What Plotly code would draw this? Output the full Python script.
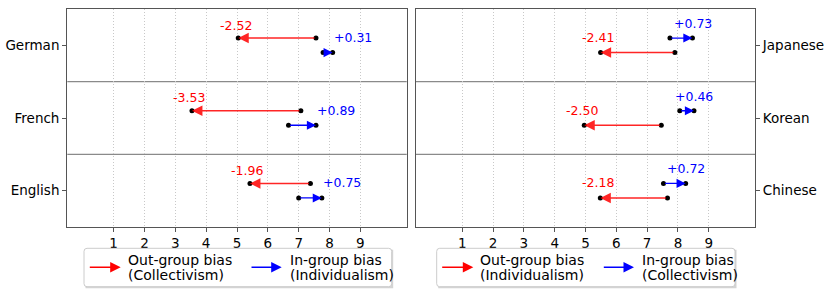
import plotly.graph_objects as go

W, H = 830, 297

# ---------------- data ----------------
left_langs = ["German", "French", "English"]
left_out_start = [7.56, 7.07, 7.38]
left_out_bias = [-2.52, -3.53, -1.96]
left_in_start = [7.79, 6.67, 7.00]
left_in_bias = [0.31, 0.89, 0.75]

right_langs = ["Japanese", "Korean", "Chinese"]
right_out_start = [7.90, 7.46, 7.66]
right_out_bias = [-2.41, -2.50, -2.18]
right_in_start = [7.74, 8.06, 7.53]
right_in_bias = [0.73, 0.46, 0.72]

x_ticks = [1, 2, 3, 4, 5, 6, 7, 8, 9]

left_legend = ["Out-group bias", "(Collectivism)", "In-group bias", "(Individualism)"]
right_legend = ["Out-group bias", "(Individualism)", "In-group bias", "(Collectivism)"]

RED = "#ff0000"
BLUE = "#0000ff"
FONT = "DejaVu Sans"

fig = go.Figure()
annotations = []
shapes = []


def px_x(p):
    return p / W


def px_y(p):
    return 1 - p / H


def panel(xref, yref, langs, out_start, out_bias, in_start, in_bias, out_off, in_off, right):
    n = len(langs)
    xs, ys = [], []
    for i in range(n):
        y_out = i + out_off
        y_in = i + in_off
        o_end = out_start[i] + out_bias[i]
        b_end = in_start[i] + in_bias[i]
        xs += [out_start[i], o_end, in_start[i], b_end]
        ys += [y_out, y_out, y_in, y_in]
        for (s, e, yy, col, w) in [(out_start[i], o_end, y_out, RED, 1.5),
                                   (in_start[i], b_end, y_in, BLUE, 1.3)]:
            annotations.append(dict(
                x=e, y=yy, ax=s, ay=yy, xref=xref, yref=yref,
                axref=xref, ayref=yref, text="", showarrow=True,
                arrowhead=2, arrowsize=1.4, arrowwidth=w, arrowcolor=col,
                opacity=0.85 if col == RED else 1.0))
        annotations.append(dict(
            x=o_end, y=y_out, xref=xref, yref=yref, text=f"{out_bias[i]:+.2f}",
            showarrow=False, xanchor="center", yanchor="middle",
            xshift=-2.5, yshift=13 if not right else 15,
            font=dict(family=FONT, size=12.5, color=RED)))
        if right:
            annotations.append(dict(
                x=b_end, y=y_in, xref=xref, yref=yref, text=f"{in_bias[i]:+.2f}",
                showarrow=False, xanchor="center", yanchor="middle",
                xshift=0.5, yshift=14.5,
                font=dict(family=FONT, size=12.5, color=BLUE)))
        else:
            annotations.append(dict(
                x=b_end, y=y_in, xref=xref, yref=yref, text=f"{in_bias[i]:+.2f}",
                showarrow=False, xanchor="left", yanchor="middle",
                xshift=-1, yshift=15,
                font=dict(family=FONT, size=12.5, color=BLUE)))
    fig.add_trace(go.Scatter(x=xs, y=ys, mode="markers", xaxis=xref, yaxis=yref,
                             marker=dict(color="black", size=5), showlegend=False,
                             hoverinfo="skip"))
    for b in [0.5, 1.5]:
        shapes.append(dict(type="line", xref=f"{xref} domain", yref=yref,
                           x0=0, x1=1, y0=b, y1=b,
                           line=dict(color="#8a8a8a", width=1.2), layer="below"))


panel("x", "y", left_langs, left_out_start, left_out_bias, left_in_start, left_in_bias,
      -0.1, 0.1, False)
panel("x2", "y2", right_langs, right_out_start, right_out_bias, right_in_start, right_in_bias,
      0.1, -0.1, True)


def legend_box(x0, x1, labels, arrows):
    y0, y1 = 248.3, 286.7
    r = 3
    shapes.append(dict(type="rect", xref="paper", yref="paper",
                       x0=px_x(x0 + 1.5), x1=px_x(x1 + 1.5), y0=px_y(y1 + 1.5), y1=px_y(y0 + 1.5),
                       line=dict(width=0), fillcolor="#d4d4d4", layer="above"))
    path = (f"M {px_x(x0 + r)},{px_y(y0)} L {px_x(x1 - r)},{px_y(y0)} "
            f"Q {px_x(x1)},{px_y(y0)} {px_x(x1)},{px_y(y0 + r)} "
            f"L {px_x(x1)},{px_y(y1 - r)} Q {px_x(x1)},{px_y(y1)} {px_x(x1 - r)},{px_y(y1)} "
            f"L {px_x(x0 + r)},{px_y(y1)} Q {px_x(x0)},{px_y(y1)} {px_x(x0)},{px_y(y1 - r)} "
            f"L {px_x(x0)},{px_y(y0 + r)} Q {px_x(x0)},{px_y(y0)} {px_x(x0 + r)},{px_y(y0)} Z")
    shapes.append(dict(type="path", xref="paper", yref="paper", path=path,
                       line=dict(color="#cccccc", width=1), fillcolor="white", layer="above"))
    for k, (ax0, ax1, tx, col) in enumerate(arrows):
        annotations.append(dict(x=px_x(ax1), y=px_y(267.3), xref="paper", yref="paper",
                                ax=-(ax1 - ax0), ay=0, text="", showarrow=True,
                                arrowhead=2, arrowsize=1.4, arrowwidth=1.5, arrowcolor=col))
        for j, yy in enumerate([259.5, 274.5]):
            annotations.append(dict(x=px_x(tx), y=px_y(yy), xref="paper", yref="paper",
                                    text=labels[2 * k + j], showarrow=False,
                                    xanchor="left", yanchor="middle",
                                    font=dict(family=FONT, size=14, color="black")))


legend_box(84, 391.7, left_legend,
           [(88.3, 120.7, 125.5, RED), (250, 281.7, 287.5, BLUE)])
legend_box(436.7, 735, right_legend,
           [(440.7, 473.3, 478, RED), (602.3, 634, 639.5, BLUE)])

xaxis_common = dict(range=[-0.5, 10.5], tickvals=x_ticks, ticktext=[str(t) for t in x_ticks],
                    showgrid=True, gridcolor="#c8c8c8", griddash="1px,2px", gridwidth=1,
                    showline=True, mirror=True, linecolor="#555555", linewidth=1.3,
                    ticks="outside", ticklen=4, tickcolor="#555555", zeroline=False,
                    automargin=False,
                    tickfont=dict(family=FONT, size=13.5, color="black"), fixedrange=True)
yaxis_common = dict(range=[2.5, -0.5], tickvals=[0, 1, 2], showgrid=False,
                    showline=True, mirror=True, linecolor="#555555", linewidth=1.3,
                    ticks="outside", ticklen=4, tickcolor="#555555", zeroline=False,
                    automargin=False,
                    tickfont=dict(family=FONT, size=13.5, color="black"), fixedrange=True)

ydom = [1 - 227 / H, 1 - 9 / H]
fig.update_layout(
    width=W, height=H,
    margin=dict(l=0, r=0, t=0, b=0, autoexpand=False),
    paper_bgcolor="white", plot_bgcolor="white",
    xaxis=dict(xaxis_common, domain=[67.3 / W, 406.7 / W], anchor="y"),
    yaxis=dict(yaxis_common, domain=ydom, anchor="x", ticktext=left_langs, side="left"),
    xaxis2=dict(xaxis_common, domain=[416 / W, 755 / W], anchor="y2"),
    yaxis2=dict(yaxis_common, domain=ydom, anchor="x2", ticktext=right_langs, side="right"),
    annotations=annotations,
    shapes=shapes,
    showlegend=False,
    font=dict(family=FONT),
)

fig.write_html("out.html", config={"displayModeBar": False},
               post_script="document.body.style.margin='0';document.body.style.overflow='hidden';")
